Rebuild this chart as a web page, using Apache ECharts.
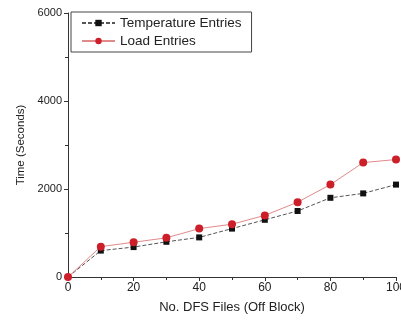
<!DOCTYPE html>
<html><head><meta charset="utf-8">
<script src="https://cdn.jsdelivr.net/npm/echarts@6/dist/echarts.min.js"></script>
<style>html,body{margin:0;padding:0;background:#fff}#c{width:401px;height:323px}</style>
</head><body><div id="c"></div>
<script>
const xValues = [0, 10, 20, 30, 40, 50, 60, 70, 80, 90, 100];
const temperatureEntries = [0, 600, 680, 800, 900, 1100, 1300, 1500, 1800, 1900, 2100];
const loadEntries = [0, 690, 790, 890, 1100, 1200, 1400, 1700, 2100, 2600, 2670];
const seriesNames = ['Temperature Entries', 'Load Entries'];

const chart = echarts.init(document.getElementById('c'), null, {renderer: 'canvas'});
const pairs = (ys) => xValues.map((x, i) => [x, ys[i]]);
const axisCommon = {
  axisLine: {show: true, lineStyle: {color: '#333', width: 1}},
  axisTick: {show: true, inside: false, length: 4, lineStyle: {color: '#333'}},
  minorTick: {show: true, splitNumber: 2, length: 3, lineStyle: {color: '#333'}},
  splitLine: {show: false},
  nameTextStyle: {color: '#222', fontFamily: 'Liberation Sans, Arial', fontSize: 13}
};
chart.setOption({
  animation: false,
  grid: {left: 68, right: 5, top: 13, bottom: 46, outerBoundsMode: 'none', containLabel: false},
  legend: {
    orient: 'vertical', left: 71, top: 12,
    data: seriesNames,
    itemWidth: 33, itemHeight: 8, itemGap: 4,
    padding: [4, 10, 4, 10],
    borderColor: '#444', borderWidth: 1,
    textStyle: {color: '#222', fontFamily: 'Liberation Sans, Arial', fontSize: 13.5}
  },
  xAxis: Object.assign({}, axisCommon, {
    type: 'value', min: 0, max: 100, interval: 20,
    name: 'No. DFS Files (Off Block)', nameLocation: 'middle', nameGap: 24,
    axisLabel: {color: '#222', fontFamily: 'Liberation Sans, Arial', fontSize: 12, margin: 5, showMaxLabel: true, hideOverlap: false}
  }),
  yAxis: Object.assign({}, axisCommon, {
    type: 'value', min: 0, max: 6000, interval: 2000,
    name: 'Time (Seconds)', nameLocation: 'middle', nameGap: 40,
    nameTextStyle: {color: '#222', fontFamily: 'Liberation Sans, Arial', fontSize: 11.5},
    axisLabel: {color: '#222', fontFamily: 'Liberation Sans, Arial', fontSize: 11, margin: 6, formatter: (v) => String(v)}
  }),
  series: [
    {
      name: seriesNames[0], type: 'line', data: pairs(temperatureEntries),
      symbol: 'rect', symbolSize: 6,
      itemStyle: {color: '#111'},
      lineStyle: {color: '#555', width: 1, type: [4, 2]}
    },
    {
      name: seriesNames[1], type: 'line', data: pairs(loadEntries),
      symbol: 'circle', symbolSize: 8,
      itemStyle: {color: '#cc1f2a'},
      lineStyle: {color: '#e08a8a', width: 1}
    }
  ]
});
</script></body></html>
